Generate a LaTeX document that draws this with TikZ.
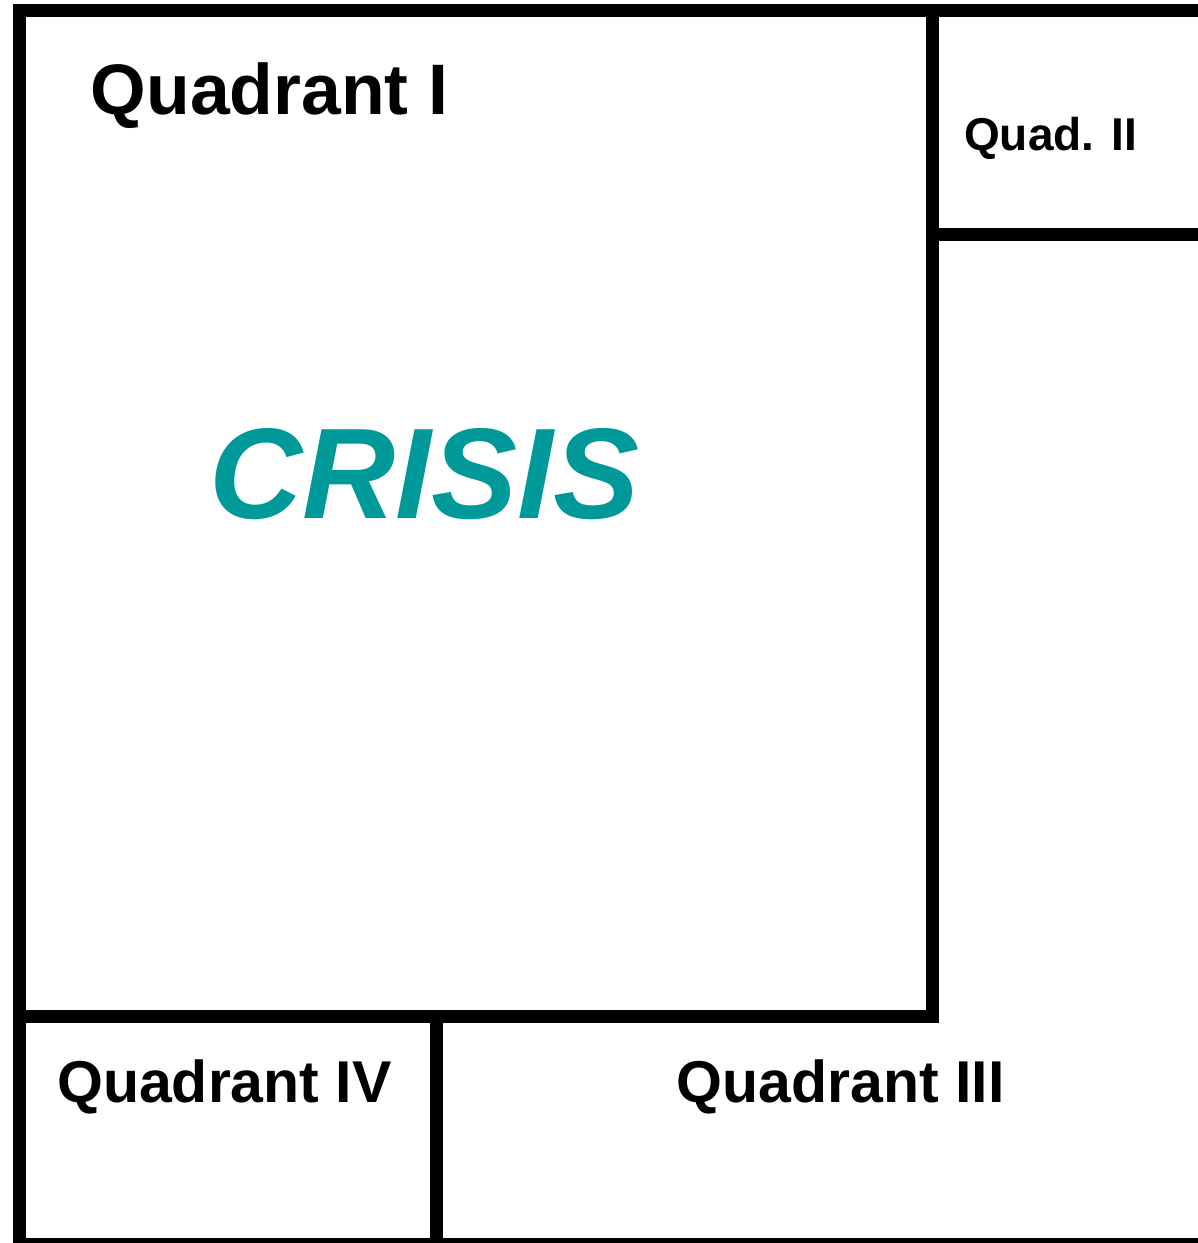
\documentclass[tikz,border=0pt]{standalone}
\usepackage{fontspec}
\setmainfont{Liberation Sans}
\definecolor{crisisteal}{RGB}{0,153,153}
\begin{document}
\begin{tikzpicture}[x=1pt,y=-1pt,
  frame/.style={line width=13pt,line cap=rect,line join=miter},
  label/.style={anchor=base west,inner sep=0pt,font=\bfseries},
]
\useasboundingbox (0,0) rectangle (1198,1243);
% outer top and left
\coordinate (tl) at (19.5,10.5);
\coordinate (tr) at (1210,10.5);
\coordinate (bl) at (19.5,1250);
\draw[frame] (tr) -- (tl) -- (bl);
% quadrant I box
\coordinate (q1tr) at (932,10.5);
\coordinate (q1br) at (932,1016.5);
\coordinate (q1bl) at (19.5,1016.5);
\draw[frame] (q1tr) -- (q1br) -- (q1bl);
% quad II bottom
\coordinate (q2l) at (932,234);
\coordinate (q2r) at (1210,234);
\draw[frame] (q2l) -- (q2r);
% divider IV / III
\coordinate (dvt) at (436.5,1016.5);
\coordinate (dvb) at (436.5,1250);
\draw[frame] (dvt) -- (dvb);
% bottom edge
\coordinate (bbl) at (19.5,1244.5);
\coordinate (bbr) at (1210,1244.5);
\draw[frame] (bbl) -- (bbr);
% texts
\node[label,font=\bfseries\fontsize{71.5}{86}\selectfont] (qI) at (90.5,114) {Quadrant I};
\node[label,font=\bfseries\fontsize{46}{56}\selectfont] (qII) at (964,150) {Quad. II};
\node[label,font=\bfseries\fontsize{59}{70}\selectfont] (qIV) at (57,1102) {Quadrant IV};
\node[label,font=\bfseries\fontsize{59}{70}\selectfont] (qIII) at (676.5,1102) {Quadrant III};
\node[label,text=crisisteal,font=\bfseries\itshape\fontsize{129}{150}\selectfont] (crisis) at (209,518) {CRISIS};
\end{tikzpicture}
\end{document}
